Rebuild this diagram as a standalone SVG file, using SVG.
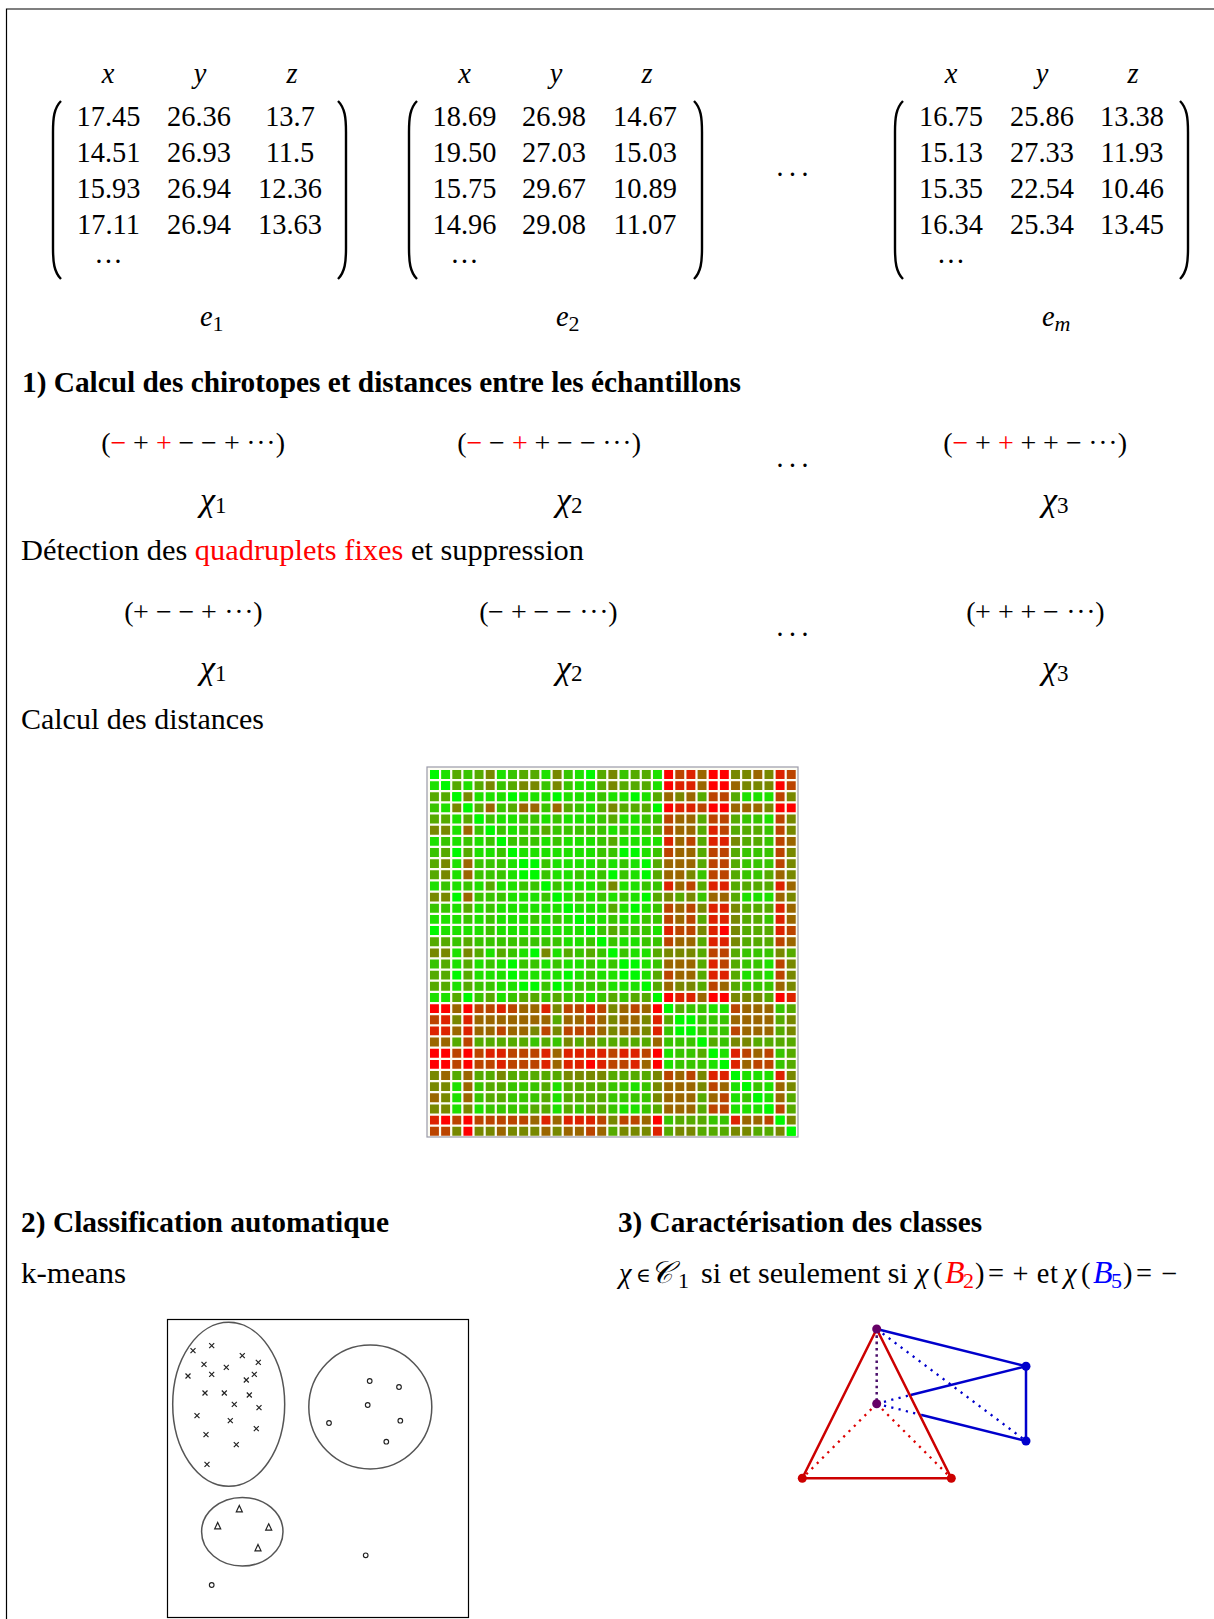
<svg xmlns="http://www.w3.org/2000/svg" xmlns:xlink="http://www.w3.org/1999/xlink" width="1214" height="1619" viewBox="0 0 1214 1619">
<style>
text{font-family:"Liberation Serif","DejaVu Serif",serif;fill:#000;font-size:28.400px}
.m{text-anchor:middle}
.i{font-style:italic}
.b{font-weight:bold}
.r{fill:#f00}
.bl{fill:#00f}
.s{font-style:normal;font-size:22px}
.ch{font-size:34px;font-style:italic}
.dg{font-style:normal;font-size:23px}
.sg{text-anchor:middle;font-size:28px}
.par{fill:none;stroke:#000;stroke-width:2.4}
.cl{fill:none;stroke:#555;stroke-width:1.5}
.mk{fill:none;stroke:#222;stroke-width:1.2}
#heat path{fill:none;stroke-width:.8}
.a{stroke:#00f800}.b0{stroke:#1ee000}.c{stroke:#38c400}.d{stroke:#55aa00}.e{stroke:#778800}.f{stroke:#9a6600}.g{stroke:#bb4400}.h{stroke:#dd2200}.j{stroke:#f00}
.rs{stroke:#c00;stroke-width:2.5;fill:none}
.bs{stroke:#00c;stroke-width:2.5;fill:none}
.rd{stroke:#d00;stroke-width:2.3;stroke-dasharray:2.2 5.3;fill:none}
.bd{stroke:#00c;stroke-width:2.3;stroke-dasharray:2.2 5.3;fill:none}
.pd{stroke:#4b0f6b;stroke-width:2.5;stroke-dasharray:2.6 3.7;fill:none}
</style>
<path d="M6.5 1619V9H1214" fill="none" stroke="#000" stroke-width="1.2"/>
<g id="matrix1">
<text class="m i" x="108" y="83">x</text><text class="m i" x="200" y="83">y</text><text class="m i" x="292" y="83">z</text>
<text class="m" x="108.500" y="126">17.45</text><text class="m" x="199" y="126">26.36</text><text class="m" x="290" y="126">13.7</text>
<text class="m" x="108.500" y="162">14.51</text><text class="m" x="199" y="162">26.93</text><text class="m" x="290" y="162">11.5</text>
<text class="m" x="108.500" y="198">15.93</text><text class="m" x="199" y="198">26.94</text><text class="m" x="290" y="198">12.36</text>
<text class="m" x="108.500" y="234">17.11</text><text class="m" x="199" y="234">26.94</text><text class="m" x="290" y="234">13.63</text>
<text class="m" x="108.500" y="263">…</text>
<path class="par" d="M61 101C54 108 53 118 53 132V248C53 262 54 272 61 279"/>
<path class="par" d="M338 101C345 108 346 118 346 132V248C346 262 345 272 338 279"/>
<text class="i" x="200" y="326" font-size="32">e<tspan class="s" dy="5">1</tspan></text>
</g>
<g id="matrix2">
<text class="m i" x="464.500" y="83">x</text><text class="m i" x="556" y="83">y</text><text class="m i" x="647" y="83">z</text>
<text class="m" x="464.500" y="126">18.69</text><text class="m" x="554" y="126">26.98</text><text class="m" x="645" y="126">14.67</text>
<text class="m" x="464.500" y="162">19.50</text><text class="m" x="554" y="162">27.03</text><text class="m" x="645" y="162">15.03</text>
<text class="m" x="464.500" y="198">15.75</text><text class="m" x="554" y="198">29.67</text><text class="m" x="645" y="198">10.89</text>
<text class="m" x="464.500" y="234">14.96</text><text class="m" x="554" y="234">29.08</text><text class="m" x="645" y="234">11.07</text>
<text class="m" x="464.500" y="263">…</text>
<path class="par" d="M417 101C410 108 409 118 409 132V248C409 262 410 272 417 279"/>
<path class="par" d="M694 101C701 108 702 118 702 132V248C702 262 701 272 694 279"/>
<text class="i" x="556" y="326" font-size="32">e<tspan class="s" dy="5">2</tspan></text>
</g>
<g id="matrix3">
<text class="m i" x="951" y="83">x</text><text class="m i" x="1042" y="83">y</text><text class="m i" x="1133" y="83">z</text>
<text class="m" x="951" y="126">16.75</text><text class="m" x="1042" y="126">25.86</text><text class="m" x="1132" y="126">13.38</text>
<text class="m" x="951" y="162">15.13</text><text class="m" x="1042" y="162">27.33</text><text class="m" x="1132" y="162">11.93</text>
<text class="m" x="951" y="198">15.35</text><text class="m" x="1042" y="198">22.54</text><text class="m" x="1132" y="198">10.46</text>
<text class="m" x="951" y="234">16.34</text><text class="m" x="1042" y="234">25.34</text><text class="m" x="1132" y="234">13.45</text>
<text class="m" x="951" y="263">…</text>
<path class="par" d="M903 101C896 108 895 118 895 132V248C895 262 896 272 903 279"/>
<path class="par" d="M1180 101C1187 108 1188 118 1188 132V248C1188 262 1187 272 1180 279"/>
<text class="i" x="1042" y="326" font-size="32">e<tspan class="s" dy="5" style="font-style:italic">m</tspan></text>
</g>
<text class="m" x="794" y="184" letter-spacing="3">···</text>
<text class="b" x="22" y="392" textLength="719" lengthAdjust="spacingAndGlyphs">1) Calcul des chirotopes et distances entre les échantillons</text>
<g id="chi1">
<text class="sg" y="452" x="106 118.500">(<tspan class="r">−</tspan></text><text class="sg" y="452" x="141">+</text><text class="sg r" y="452" x="164">+</text><text class="sg" y="452" x="186.500 209 232 251 261 271 280.500">−−+···)</text>
<text class="sg" y="452" x="462 474.500">(<tspan class="r">−</tspan></text><text class="sg" y="452" x="497">−</text><text class="sg r" y="452" x="520">+</text><text class="sg" y="452" x="542.500 565 588 607 617 627 636.500">+−−···)</text>
<text class="sg" y="452" x="948 960.500">(<tspan class="r">−</tspan></text><text class="sg" y="452" x="983">+</text><text class="sg r" y="452" x="1006">+</text><text class="sg" y="452" x="1028.500 1051 1074 1093 1103 1113 1122.500">++−···)</text>
<text class="m" x="794" y="475" letter-spacing="3">···</text>
<text class="ch" x="200" y="511">χ<tspan class="dg" dy="2">1</tspan></text>
<text class="ch" x="556" y="511">χ<tspan class="dg" dy="2">2</tspan></text>
<text class="ch" x="1042" y="511">χ<tspan class="dg" dy="2">3</tspan></text>
</g>
<text x="21" y="560" textLength="563" lengthAdjust="spacingAndGlyphs">Détection des <tspan class="r">quadruplets fixes</tspan> et suppression</text>
<g id="chi2">
<text class="sg" y="621" x="129 141 164 186.500 209 229 239 249 258">(+−−+···)</text>
<text class="sg" y="621" x="484 496 519 541.500 564 584 594 604 613">(−+−−···)</text>
<text class="sg" y="621" x="971 983 1006 1028.500 1051 1071 1081 1091 1100">(+++−···)</text>
<text class="m" x="794" y="644" letter-spacing="3">···</text>
<text class="ch" x="200" y="679">χ<tspan class="dg" dy="2">1</tspan></text>
<text class="ch" x="556" y="679">χ<tspan class="dg" dy="2">2</tspan></text>
<text class="ch" x="1042" y="679">χ<tspan class="dg" dy="2">3</tspan></text>
</g>
<text x="21" y="729" textLength="243" lengthAdjust="spacingAndGlyphs">Calcul des distances</text>
<g id="heat-frame"><rect x="427" y="767" width="371" height="370" fill="#fdfdf4" stroke="#9a9aa8" stroke-width="1.2"/></g>
<g id="heat" transform="translate(430 770) scale(11.15)">
<g id="cells" transform="translate(0 .4)">
<path class="a" d="M0 0h.8M14 0h.8M1 1h.8M2 2h.8M7 2h.8M11 2h.8M18 2h.8M3 3h.8M20 3h.8M4 4h.8M5 5h.8M6 6h.8M7 7h.8M17 7h.8M18 7h.8M8 8h.8M9 8h.8M19 8h.8M9 9h.8M16 9h.8M19 9h.8M10 10h.8M11 11h.8M19 11h.8M12 12h.8M18 12h.8M13 13h.8M14 14h.8M15 15h.8M16 16h.8M17 17h.8M18 17h.8M18 18h.8M19 19h.8M20 20h.8M21 21h.8M22 22h.8M23 22h.8M23 23h.8M24 24h.8M25 25h.8M26 26h.8M27 27h.8M28 28h.8M29 29h.8M30 30h.8M31 31h.8M32 32h.8"/>
<path class="b0" d="M1 0h.8M6 0h.8M10 0h.8M13 0h.8M20 0h.8M3 1h.8M13 1h.8M14 1h.8M20 1h.8M4 2h.8M5 2h.8M6 2h.8M8 2h.8M9 2h.8M10 2h.8M12 2h.8M13 2h.8M14 2h.8M16 2h.8M17 2h.8M19 2h.8M28 2h.8M29 2h.8M30 2h.8M14 3h.8M6 4h.8M7 4h.8M10 4h.8M12 4h.8M13 4h.8M14 4h.8M17 4h.8M18 4h.8M30 4h.8M7 5h.8M16 5h.8M18 5h.8M10 6h.8M12 6h.8M13 6h.8M14 6h.8M17 6h.8M18 6h.8M19 6h.8M20 6h.8M8 7h.8M9 7h.8M10 7h.8M11 7h.8M12 7h.8M13 7h.8M14 7h.8M19 7h.8M11 8h.8M12 8h.8M13 8h.8M14 8h.8M16 8h.8M18 8h.8M11 9h.8M12 9h.8M14 9h.8M18 9h.8M12 10h.8M13 10h.8M14 10h.8M17 10h.8M18 10h.8M12 11h.8M14 11h.8M16 11h.8M18 11h.8M28 11h.8M29 11h.8M30 11h.8M13 12h.8M14 12h.8M15 12h.8M17 12h.8M19 12h.8M14 13h.8M15 13h.8M17 13h.8M18 13h.8M20 14h.8M17 15h.8M18 15h.8M18 16h.8M19 16h.8M19 17h.8M30 17h.8M19 18h.8M28 18h.8M30 18h.8M25 21h.8M26 21h.8M26 25h.8M28 27h.8M29 27h.8M30 27h.8M30 28h.8M30 29h.8"/>
<path class="c" d="M3 0h.8M7 0h.8M12 0h.8M17 0h.8M6 1h.8M10 1h.8M12 1h.8M15 2h.8M6 3h.8M10 3h.8M13 3h.8M5 4h.8M8 4h.8M9 4h.8M11 4h.8M15 4h.8M19 4h.8M20 4h.8M28 4h.8M29 4h.8M6 5h.8M8 5h.8M9 5h.8M11 5h.8M12 5h.8M13 5h.8M14 5h.8M15 5h.8M17 5h.8M19 5h.8M30 5h.8M7 6h.8M8 6h.8M9 6h.8M11 6h.8M15 6h.8M30 6h.8M15 7h.8M16 7h.8M20 7h.8M28 7h.8M29 7h.8M30 7h.8M10 8h.8M15 8h.8M17 8h.8M28 8h.8M29 8h.8M30 8h.8M10 9h.8M13 9h.8M15 9h.8M17 9h.8M24 9h.8M28 9h.8M29 9h.8M11 10h.8M15 10h.8M19 10h.8M20 10h.8M13 11h.8M15 11h.8M17 11h.8M24 11h.8M20 12h.8M16 13h.8M19 13h.8M20 13h.8M30 13h.8M15 14h.8M17 14h.8M18 14h.8M19 14h.8M16 15h.8M19 15h.8M20 15h.8M17 16h.8M28 16h.8M29 16h.8M30 16h.8M20 17h.8M28 17h.8M29 17h.8M29 18h.8M28 19h.8M29 19h.8M30 19h.8M23 21h.8M24 21h.8M31 21h.8M24 22h.8M25 22h.8M26 22h.8M24 23h.8M25 23h.8M26 23h.8M26 24h.8M31 25h.8M31 26h.8M29 28h.8"/>
<path class="d" d="M2 0h.8M4 0h.8M8 0h.8M9 0h.8M15 0h.8M18 0h.8M19 0h.8M2 1h.8M4 1h.8M7 1h.8M15 1h.8M17 1h.8M18 1h.8M19 1h.8M20 2h.8M24 2h.8M27 2h.8M4 3h.8M7 3h.8M12 3h.8M15 3h.8M17 3h.8M18 3h.8M19 3h.8M16 4h.8M24 4h.8M27 4h.8M10 5h.8M20 5h.8M24 5h.8M27 5h.8M28 5h.8M29 5h.8M16 6h.8M24 6h.8M28 6h.8M29 6h.8M24 7h.8M27 7h.8M20 8h.8M24 8h.8M27 8h.8M20 9h.8M27 9h.8M30 9h.8M24 10h.8M27 10h.8M28 10h.8M29 10h.8M30 10h.8M20 11h.8M22 11h.8M27 11h.8M16 12h.8M28 12h.8M29 12h.8M30 12h.8M24 13h.8M28 13h.8M29 13h.8M16 14h.8M28 14h.8M29 14h.8M30 14h.8M24 15h.8M28 15h.8M29 15h.8M30 15h.8M20 16h.8M24 16h.8M27 16h.8M32 16h.8M24 17h.8M27 17h.8M20 18h.8M24 18h.8M27 18h.8M20 19h.8M24 19h.8M27 19h.8M30 20h.8M22 21h.8M32 21h.8M31 22h.8M31 23h.8M25 24h.8M29 24h.8M30 24h.8M31 24h.8M32 24h.8M32 25h.8M32 26h.8M32 29h.8M32 30h.8"/>
<path class="e" d="M5 0h.8M11 0h.8M16 0h.8M27 0h.8M28 0h.8M30 0h.8M5 1h.8M8 1h.8M9 1h.8M11 1h.8M16 1h.8M28 1h.8M29 1h.8M30 1h.8M3 2h.8M22 2h.8M32 2h.8M16 3h.8M30 3h.8M32 4h.8M32 5h.8M27 6h.8M32 7h.8M32 8h.8M23 9h.8M32 9h.8M16 10h.8M21 11h.8M23 11h.8M32 11h.8M24 12h.8M27 12h.8M27 13h.8M24 14h.8M27 14h.8M27 15h.8M21 16h.8M22 16h.8M23 16h.8M31 16h.8M32 17h.8M32 18h.8M22 19h.8M23 19h.8M32 19h.8M27 20h.8M28 20h.8M29 20h.8M32 22h.8M32 23h.8M27 24h.8M28 24h.8M32 27h.8M32 28h.8M32 31h.8"/>
<path class="f" d="M24 0h.8M29 0h.8M24 1h.8M27 1h.8M21 2h.8M23 2h.8M5 3h.8M8 3h.8M9 3h.8M11 3h.8M27 3h.8M28 3h.8M29 3h.8M22 4h.8M23 4h.8M22 5h.8M23 5h.8M22 6h.8M32 6h.8M22 7h.8M23 7h.8M21 8h.8M22 8h.8M23 8h.8M21 9h.8M22 9h.8M31 9h.8M22 10h.8M32 10h.8M25 11h.8M26 11h.8M31 11h.8M22 12h.8M32 12h.8M22 13h.8M32 13h.8M22 15h.8M23 15h.8M32 15h.8M21 17h.8M22 17h.8M23 17h.8M22 18h.8M23 18h.8M21 19h.8M26 19h.8M31 19h.8M24 20h.8M28 21h.8M29 21h.8M30 21h.8M27 22h.8M28 22h.8M29 22h.8M30 22h.8M28 23h.8M29 23h.8M30 23h.8M29 25h.8M28 26h.8M31 28h.8M31 29h.8"/>
<path class="g" d="M22 0h.8M32 0h.8M32 1h.8M25 2h.8M26 2h.8M31 2h.8M24 3h.8M21 4h.8M25 4h.8M26 4h.8M31 4h.8M21 5h.8M26 5h.8M31 5h.8M23 6h.8M31 6h.8M21 7h.8M25 7h.8M26 7h.8M31 7h.8M25 8h.8M26 8h.8M31 8h.8M25 9h.8M26 9h.8M23 10h.8M21 12h.8M23 12h.8M21 13h.8M23 13h.8M22 14h.8M23 14h.8M32 14h.8M21 15h.8M31 15h.8M25 16h.8M26 16h.8M26 17h.8M31 17h.8M21 18h.8M31 18h.8M25 19h.8M27 21h.8M27 23h.8M28 25h.8M30 25h.8M29 26h.8M30 26h.8M31 30h.8"/>
<path class="h" d="M23 0h.8M31 0h.8M22 1h.8M23 1h.8M22 3h.8M23 3h.8M25 5h.8M21 6h.8M25 6h.8M26 6h.8M21 10h.8M25 10h.8M26 10h.8M31 10h.8M25 12h.8M26 12h.8M31 12h.8M25 13h.8M26 13h.8M31 13h.8M21 14h.8M25 14h.8M31 14h.8M25 15h.8M26 15h.8M25 17h.8M25 18h.8M26 18h.8M22 20h.8M23 20h.8M32 20h.8M27 25h.8M27 26h.8M31 27h.8"/>
<path class="j" d="M21 0h.8M25 0h.8M26 0h.8M21 1h.8M25 1h.8M26 1h.8M31 1h.8M21 3h.8M25 3h.8M26 3h.8M31 3h.8M32 3h.8M26 14h.8M21 20h.8M25 20h.8M26 20h.8M31 20h.8"/>
</g>
<use href="#cells" transform="matrix(0 1 1 0 0 0)"/>
</g>
<text class="b" x="21" y="1232" textLength="368" lengthAdjust="spacingAndGlyphs">2) Classification automatique</text>
<text class="b" x="618" y="1232" textLength="364" lengthAdjust="spacingAndGlyphs">3) Caractérisation des classes</text>
<text x="21" y="1283" textLength="105" lengthAdjust="spacingAndGlyphs">k-means</text>
<g id="formula">
<text class="i" x="619" y="1283" font-size="32">χ</text>
<text x="636" y="1282" style="font-size:20px">∈</text>
<text class="i" x="650" y="1283" style="font-size:31px">𝒞</text>
<text x="678" y="1288" style="font-size:22px">1</text>
<text x="701" y="1283" textLength="207" lengthAdjust="spacingAndGlyphs">si et seulement si</text>
<text class="i" x="916" y="1283" font-size="32">χ</text>
<text x="933" y="1283">(</text>
<text class="i r" x="945" y="1283" style="font-size:32px">B</text>
<text class="r" x="963" y="1288" style="font-size:22px">2</text>
<text x="975" y="1283">)</text>
<text x="988" y="1283" textLength="70" lengthAdjust="spacing">= + et</text>
<text class="i" x="1064" y="1283" font-size="32">χ</text>
<text x="1081" y="1283">(</text>
<text class="i bl" x="1093" y="1283" style="font-size:32px">B</text>
<text class="bl" x="1111" y="1288" style="font-size:22px">5</text>
<text x="1123" y="1283">)</text>
<text x="1136" y="1283" textLength="41" lengthAdjust="spacing">= −</text>
</g>
<g id="plot">
<rect x="167.500" y="1319.500" width="301" height="298" fill="#fff" stroke="#000" stroke-width="1.2"/>
<ellipse class="cl" cx="228.700" cy="1404.300" rx="56" ry="82"/>
<ellipse class="cl" cx="370.300" cy="1407" rx="61.500" ry="62"/>
<ellipse class="cl" cx="242.300" cy="1531.700" rx="40.700" ry="34.300"/>
<defs>
<path id="x" d="M-2.500-2.500L2.500 2.500M-2.500 2.500L2.500-2.500"/>
<circle id="o" r="2.300"/>
<path id="tr" d="M0-3.500L3 2.800H-3Z"/>
</defs>
<g class="mk">
<use href="#x" x="193" y="1350.700"/><use href="#x" x="211.700" y="1345.700"/><use href="#x" x="242.300" y="1355.700"/><use href="#x" x="258.300" y="1362.300"/><use href="#x" x="204" y="1364.300"/><use href="#x" x="226.300" y="1367.300"/><use href="#x" x="211.700" y="1374.300"/><use href="#x" x="188" y="1376"/><use href="#x" x="254.300" y="1374.300"/><use href="#x" x="246.300" y="1380"/><use href="#x" x="205" y="1393"/><use href="#x" x="224.300" y="1393"/><use href="#x" x="249.300" y="1395"/><use href="#x" x="234.300" y="1404.300"/><use href="#x" x="259" y="1407.700"/><use href="#x" x="197" y="1415.700"/><use href="#x" x="230.300" y="1420.700"/><use href="#x" x="256.300" y="1428.700"/><use href="#x" x="206" y="1434.700"/><use href="#x" x="236.300" y="1444.700"/><use href="#x" x="207" y="1464.300"/>
<use href="#o" x="369.700" y="1381"/><use href="#o" x="399" y="1387"/><use href="#o" x="367.700" y="1405"/><use href="#o" x="329" y="1423"/><use href="#o" x="400.300" y="1420.700"/><use href="#o" x="386.300" y="1441.700"/><use href="#o" x="365.700" y="1555.300"/><use href="#o" x="211.700" y="1585"/>
<use href="#tr" x="239.300" y="1509"/><use href="#tr" x="217.700" y="1526"/><use href="#tr" x="268.700" y="1527.300"/><use href="#tr" x="258" y="1548"/>
</g>
</g>
<g id="tetra">
<path class="rd" d="M876.700 1403.700L802.300 1478.300M876.700 1403.700L951.300 1478.300"/>
<path class="bd" d="M876.700 1329L1026 1441M876.700 1403.700L910.700 1395M876.700 1403.700L921.700 1415"/>
<path class="pd" d="M876.700 1329V1403.700"/>
<path class="bs" d="M876.700 1329L1026 1366.300V1441M1026 1366.300L910.700 1395M1026 1441L921.700 1415"/>
<path class="rs" d="M876.700 1329L802.300 1478.300H951.300Z"/>
<g fill="#c00"><circle cx="802.300" cy="1478.300" r="4.500"/><circle cx="951.300" cy="1478.300" r="4.500"/></g>
<g fill="#00c"><circle cx="1026" cy="1366.300" r="4.500"/><circle cx="1026" cy="1441" r="4.500"/></g>
<g fill="#606"><circle cx="876.700" cy="1329" r="4.500"/><circle cx="876.700" cy="1403.700" r="4.500"/></g>
</g>
</svg>
